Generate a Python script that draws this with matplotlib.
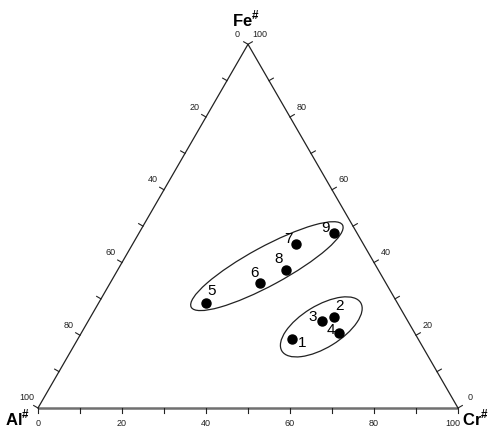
import matplotlib

matplotlib.use("Agg")

import matplotlib.pyplot as plt
import numpy as np
from matplotlib.patches import Ellipse

plt.rcParams["font.family"] = ["Liberation Sans", "DejaVu Sans"]
plt.rcParams["mathtext.fontset"] = "custom"
plt.rcParams["mathtext.rm"] = "Liberation Sans:bold"
plt.rcParams["mathtext.bf"] = "Liberation Sans:bold"

# sample compositions (percent): Cr#, Fe#, Al# = 100 - Cr - Fe
sample_ids = ["1", "2", "3", "4", "5", "6", "7", "8", "9"]
cr_pct = [51, 58, 55.5, 61.5, 25.5, 35.5, 39, 40, 46.5]
fe_pct = [19, 25, 24, 20.5, 29, 34.5, 45, 38, 48]

# group outlines: centre (Cr, Fe), size in triangle units, tilt
group_cr = [35.0, 56.3]
group_fe = [39.0, 22.3]
group_w = [0.41, 0.22]
group_h = [0.092, 0.10]
group_angle = [28.5, 31.5]

tick_values = list(range(0, 101, 10))
label_values = list(range(0, 101, 20))

# label offsets in pixels (dx, dy up)
label_offsets = [(10, -4), (5, 11), (-9, 4), (-8, 3), (6, 12),
                 (-5, 10), (-8, 5), (-7, 11), (-9, 5)]

H = np.sqrt(3) / 2


def to_xy(cr, fe):
    cr = np.asarray(cr, dtype=float) / 100
    fe = np.asarray(fe, dtype=float) / 100
    return cr + 0.5 * fe, H * fe


fig = plt.figure(figsize=(4.9, 4.3), dpi=100)
ax = fig.add_axes([0, 0, 1, 1])
ax.set_xlim(-38 / 420, 452 / 420)
ax.set_ylim(-22 / 420, 408 / 420)
ax.set_aspect("equal")
ax.axis("off")

al_v = np.array([0.0, 0.0])
cr_v = np.array([1.0, 0.0])
fe_v = np.array([0.5, H])

# triangle edges
ax.plot([al_v[0], cr_v[0]], [al_v[1], cr_v[1]], color="#707070", lw=1.8,
        solid_capstyle="butt", zorder=2)
ax.plot([al_v[0], fe_v[0], cr_v[0]], [al_v[1], fe_v[1], cr_v[1]],
        color="#222222", lw=0.9, zorder=2)

tl = 5 / 420
tick_kw = dict(color="#222222", lw=0.8, zorder=2)
lab_kw = dict(fontsize=6.5, va="center", color="#222222")

# bottom axis: Cr# from Al (0) to Cr (100)
for v in tick_values:
    p = al_v + (cr_v - al_v) * v / 100
    ax.plot([p[0], p[0]], [p[1], p[1] - tl], **tick_kw)
for v in label_values:
    p = al_v + (cr_v - al_v) * v / 100
    if v == 100:
        ax.text(p[0] + 2 / 420, p[1] - 16 / 420, str(v), ha="right", **lab_kw)
    else:
        ax.text(p[0], p[1] - 16 / 420, str(v), ha="center", **lab_kw)

# left axis: Al# from Fe (0) to Al (100)
out_l = np.array([np.cos(np.radians(150)), np.sin(np.radians(150))])
for v in tick_values:
    p = fe_v + (al_v - fe_v) * v / 100
    q = p + out_l * tl
    ax.plot([p[0], q[0]], [p[1], q[1]], **tick_kw)
for v in label_values:
    p = fe_v + (al_v - fe_v) * v / 100
    ax.text(p[0] - 11 / 420, p[1] + 10 / 420, str(v), ha="center", **lab_kw)

# right axis: Fe# from Cr (0) to Fe (100)
out_r = np.array([np.cos(np.radians(30)), np.sin(np.radians(30))])
for v in tick_values:
    p = cr_v + (fe_v - cr_v) * v / 100
    q = p + out_r * tl
    ax.plot([p[0], q[0]], [p[1], q[1]], **tick_kw)
for v in label_values:
    p = cr_v + (fe_v - cr_v) * v / 100
    ax.text(p[0] + 12 / 420, p[1] + 10 / 420, str(v), ha="center", **lab_kw)

# vertex labels
vkw = dict(fontsize=12, fontweight="bold", va="center")
ax.text(fe_v[0] - 2 / 420, fe_v[1] + 25 / 420, r"Fe$^{\#}$", ha="center", **vkw)
ax.text(al_v[0] - 8 / 420, al_v[1] - 10 / 420, r"Al$^{\#}$", ha="right", **vkw)
ax.text(cr_v[0] + 31 / 420, cr_v[1] - 10 / 420, r"Cr$^{\#}$", ha="right", **vkw)

# group ellipses
gx, gy = to_xy(group_cr, group_fe)
for x, y, w, h, a in zip(gx, gy, group_w, group_h, group_angle):
    ax.add_patch(Ellipse((x, y), w, h, angle=a, fill=False,
                         edgecolor="#222222", lw=0.9, zorder=3))

# samples
px, py = to_xy(cr_pct, fe_pct)
ax.plot(px, py, "o", color="black", markersize=6.5, zorder=4)
for sid, x, y, off in zip(sample_ids, px, py, label_offsets):
    ax.annotate(sid, (x, y), xytext=off, textcoords="offset pixels",
                ha="center", va="center", fontsize=11, zorder=5)

fig.savefig("out.png", dpi=100)
plt.close(fig)
